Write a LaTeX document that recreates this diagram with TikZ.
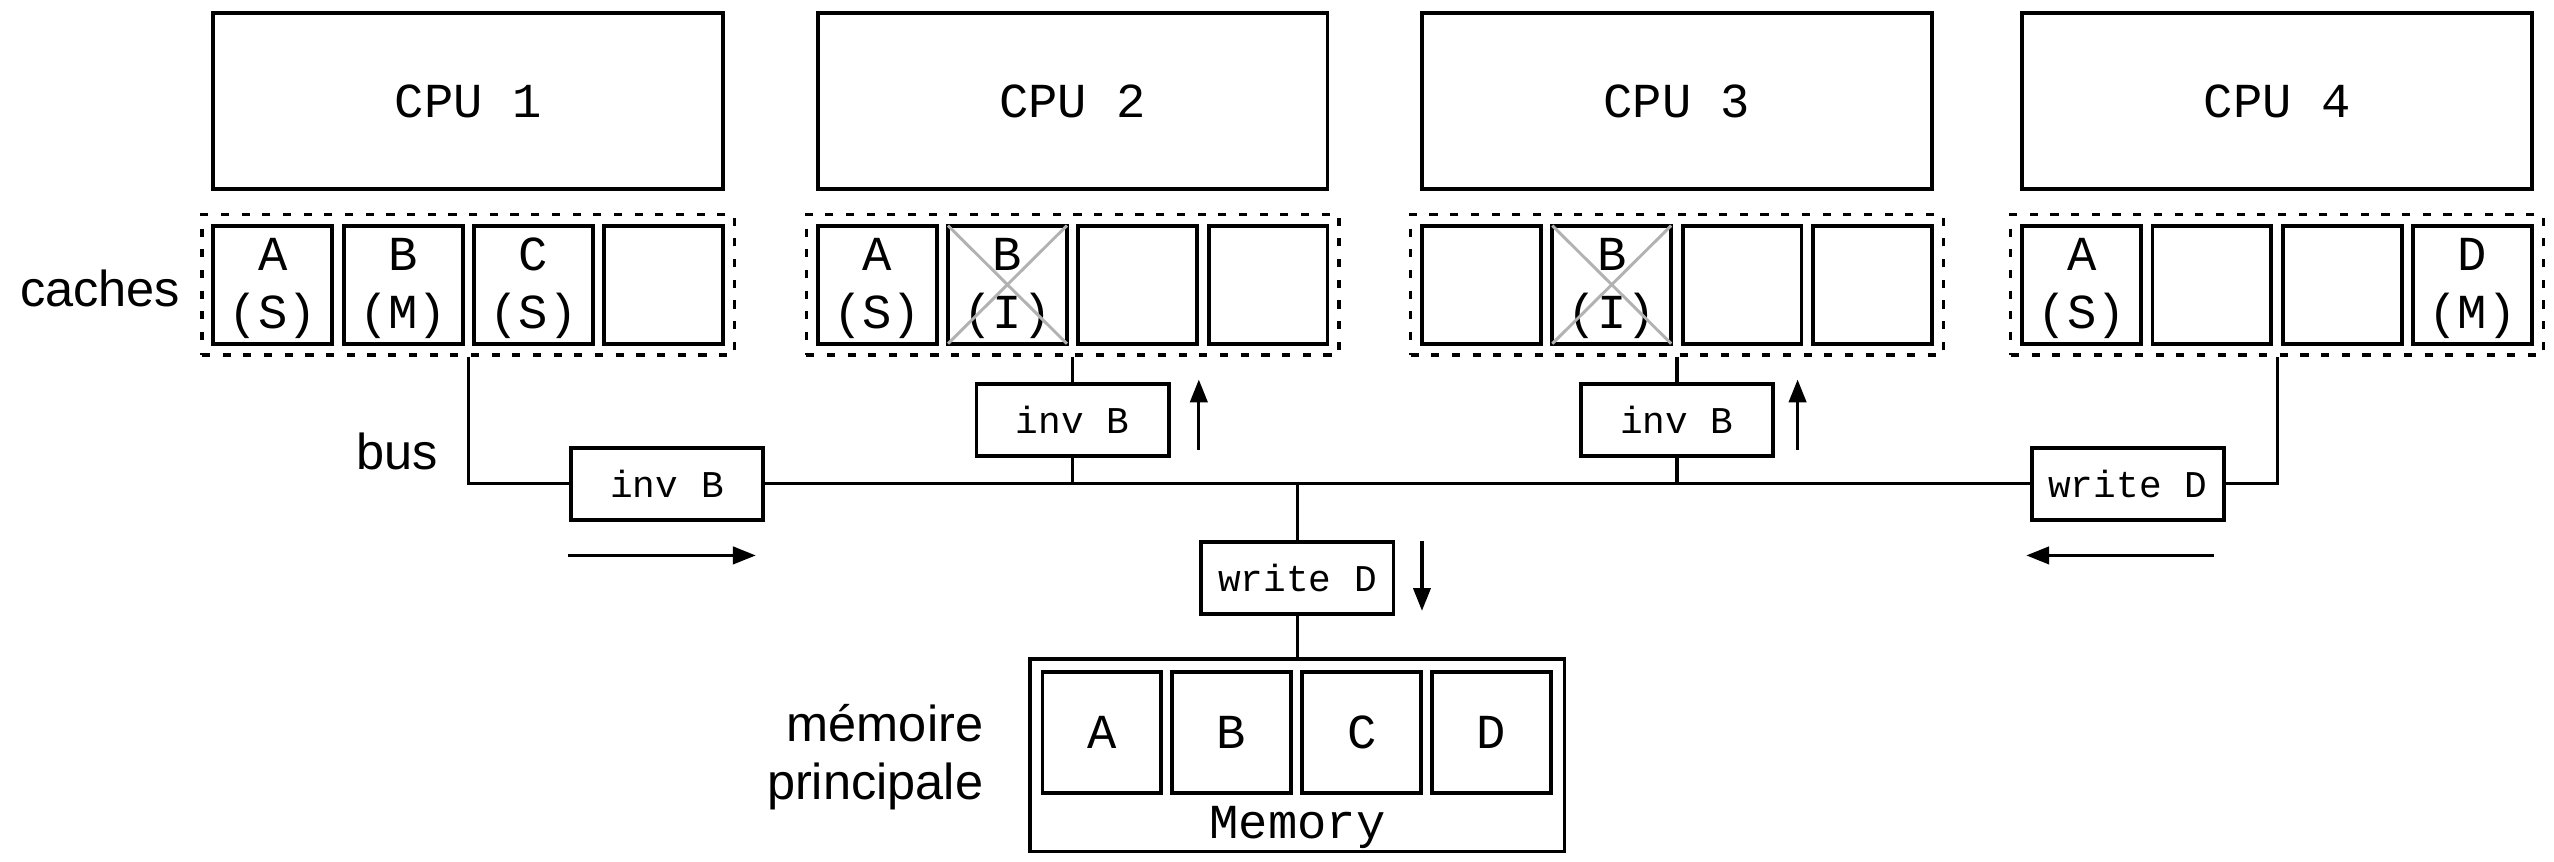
\documentclass[tikz,border=0pt]{standalone}
\usepackage{fontspec}
\setmainfont{Liberation Sans}
\newfontfamily\monof{Liberation Mono}
\usetikzlibrary{arrows.meta,fit}
\newcommand\bigmono{\monof\fontsize{15}{18}\selectfont}
\newcommand\smallmono{\monof\fontsize{11.6}{14}\selectfont}
\newcommand\sanslbl{\fontsize{15.5}{18.6}\selectfont}
\newcommand\twoline[3]{%
  \node[celltxt] (#1a) at (#1.center |- rowA) {#2};
  \node[celltxt] (#1b) at (#1.center |- rowB) {#3};}
\begin{document}
\begin{tikzpicture}[x=0.5pt,y=-0.5pt,
  box/.style={draw, line width=1.2pt, inner sep=0pt, outer sep=0pt, fill=white},
  cpubox/.style={box, minimum width=156.5pt, minimum height=54pt, font=\bigmono},
  cell/.style={box, minimum width=36.5pt, minimum height=36.25pt, font=\bigmono},
  memcell/.style={box, minimum width=36.5pt, minimum height=37.35pt, font=\bigmono},
  msgbox/.style={box, minimum width=59pt, minimum height=22pt, font=\smallmono},
  cachebox/.style={draw, line width=1pt, dash pattern=on 2.5pt off 3.85pt, inner sep=3.5pt},
  celltxt/.style={anchor=base, inner sep=0pt, font=\bigmono},
  lbl/.style={anchor=base east, inner sep=0pt, font=\sanslbl},
  wire/.style={line width=1pt},
  flow/.style={line width=1pt, -{Triangle[length=7pt,width=5.3pt]}},
  cross/.style={draw=black!30, line width=0.9pt}]
\useasboundingbox (0,0) rectangle (1568,529.2);
\coordinate (rowA) at (0,166.3);
\coordinate (rowB) at (0,201.6);

% CPUs and caches
\foreach \c [count=\i] in {287.5,658.5,1029.5,1398} {
  \node[cpubox] (cpu\i) at (\c,62) {CPU \i};
  \foreach \o [count=\j] in {-120,-40,40,120}
    \node[cell] (c\i\j) at (\c+\o,174.75) {};
  \node[cachebox, fit=(c\i1)(c\i4)] (cache\i) {};
}

% cache contents
\twoline{c11}{A}{(S)}
\twoline{c12}{B}{(M)}
\twoline{c13}{C}{(S)}
\twoline{c21}{A}{(S)}
\twoline{c22}{B}{(I)}
\twoline{c32}{B}{(I)}
\twoline{c41}{A}{(S)}
\twoline{c44}{D}{(M)}

% invalidated lines
\draw[cross] (c22.north west) -- (c22.south east) (c22.north east) -- (c22.south west);
\draw[cross] (c32.north west) -- (c32.south east) (c32.north east) -- (c32.south west);

% messages
\node[msgbox] (ib1) at (409.5,297) {inv B};
\node[msgbox] (ib2) at (658.5,258) {inv B};
\node[msgbox] (ib3) at (1029.5,258) {inv B};
\node[msgbox] (wd1) at (1306.25,297) {write D};
\node[msgbox] (wdm) at (796.5,355) {write D};

% main memory
\node[box, minimum width=164pt, minimum height=59pt] (mem) at (796.5,463.75) {};
\foreach \x/\t in {676.5/A,756/B,836/C,915.5/D}
  \node[memcell] (m\t) at (\x,449.65) {\t};
\node[celltxt] (memlbl) at (796.5,514.6) {Memory};

% bus wiring
\draw[wire] (cache1.south) |- (ib1.west);
\draw[wire] (ib1.east) -- (wd1.west);
\draw[wire] (wd1.east) -| (cache4.south);
\draw[wire] (cache2.south) -- (ib2.north);
\draw[wire] (ib2.south) -- (ib2.south |- ib1.east);
\draw[wire] (cache3.south) -- (ib3.north);
\draw[wire] (ib3.south) -- (ib3.south |- ib1.east);
\draw[wire] (wdm.north |- ib1.east) -- (wdm.north);
\draw[wire] (wdm.south) -- (mem.north);

% direction arrows
\draw[flow] (349,341) -- (464,341);
\draw[flow] (1359,341) -- (1244,341);
\draw[flow] (736,276) -- (736,233);
\draw[flow] (1103.6,276) -- (1103.6,233);
\draw[flow] (873,332) -- (873,375);

% labels
\node[lbl] (lcaches) at (111,188.3) {caches};
\node[lbl] (lbus) at (269,288.5) {bus};
\node[lbl] (lmem1) at (604,455.3) {mémoire};
\node[lbl] (lmem2) at (604,491) {principale};
\end{tikzpicture}
\end{document}
